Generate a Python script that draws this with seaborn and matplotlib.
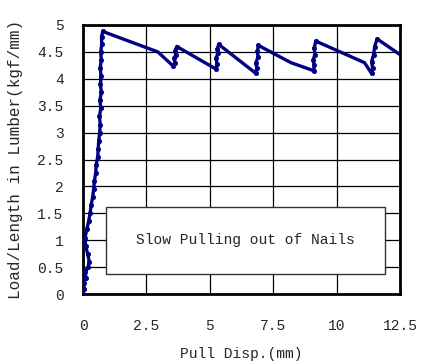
import pandas as pd
import matplotlib.pyplot as plt
import seaborn as sns

# data (displacement mm, load per length kgf/mm)
disp = [0.0, 0.05, 0.02, 0.12, 0.08, 0.2, 0.25, 0.18, 0.1, 0.08, 0.15, 0.22, 0.28,
        0.32, 0.38, 0.42, 0.45, 0.5, 0.52, 0.58, 0.6, 0.62, 0.66, 0.68, 0.65, 0.7,
        0.67, 0.72, 0.69, 0.71, 0.68, 0.72, 0.7, 0.74, 0.73, 0.78,
        2.95, 3.55, 3.62, 3.6, 3.66, 3.63, 3.7,
        5.25, 5.28, 5.25, 5.32, 5.3, 5.35,
        6.82, 6.85, 6.82, 6.9, 6.88, 6.92,
        8.2, 9.1, 9.12, 9.08, 9.14, 9.12, 9.18,
        11.1, 11.38, 11.42, 11.38, 11.46, 11.5, 11.6,
        12.5]
load = [0.0, 0.1, 0.2, 0.3, 0.4, 0.5, 0.6, 0.75, 0.9, 1.05, 1.2, 1.35, 1.5,
        1.65, 1.8, 1.95, 2.1, 2.25, 2.4, 2.55, 2.7, 2.85, 3.0, 3.15, 3.3, 3.45,
        3.6, 3.75, 3.9, 4.05, 4.2, 4.35, 4.5, 4.65, 4.78, 4.88,
        4.5, 4.24, 4.3, 4.38, 4.45, 4.52, 4.6,
        4.18, 4.28, 4.38, 4.48, 4.56, 4.64,
        4.1, 4.2, 4.3, 4.4, 4.52, 4.62,
        4.3, 4.15, 4.25, 4.35, 4.45, 4.58, 4.7,
        4.3, 4.1, 4.2, 4.32, 4.45, 4.6, 4.74,
        4.45]
# points sitting on the noisy pull-up parts (drawn with dots)
noisy = [True] * 36 + [False, True, True, True, True, True, True,
                       True, True, True, True, True, True,
                       True, True, True, True, True, True,
                       False, True, True, True, True, True, True,
                       False, True, True, True, True, True, True,
                       False]

xticks = [0, 2.5, 5, 7.5, 10, 12.5]
xlabels = ['0', '2.5', '5', '7.5', '10', '12.5']
yticks = [0, 0.5, 1, 1.5, 2, 2.5, 3, 3.5, 4, 4.5, 5]
ylabels = ['0', '0.5', '1', '1.5', '2', '2.5', '3', '3.5', '4', '4.5', '5']

df = pd.DataFrame({'disp': disp, 'load': load, 'noisy': noisy})

sns.set_style('white')
plt.rcParams['font.family'] = ['Liberation Mono', 'DejaVu Sans']

fig = plt.figure(figsize=(4.21, 3.64), dpi=100)
ax = fig.add_axes([83 / 421, 1 - 294 / 364, 317 / 421, 269 / 364])

navy = '#000080'
sns.lineplot(x='disp', y='load', data=df, sort=False, estimator=None,
             color=navy, linewidth=2.4, ax=ax, zorder=4)
sns.scatterplot(x='disp', y='load', data=df[df['noisy']], color=navy,
                s=10, edgecolor=navy, linewidth=0.5, ax=ax, zorder=5)

ax.set_xlim(0, 12.5)
ax.set_ylim(0, 5)
ax.set_xticks(xticks)
ax.set_xticklabels(xlabels, fontsize=10.5)
ax.set_yticks(yticks)
ax.set_yticklabels(ylabels, fontsize=10.5)
ax.tick_params(axis='x', length=0, pad=18)
ax.tick_params(axis='y', length=0, pad=14)
ax.grid(True, color='black', linewidth=0.9)
ax.set_axisbelow(True)
for sp in ax.spines.values():
    sp.set_visible(True)
    sp.set_color('black')
    sp.set_linewidth(2)

ax.set_xlabel('Pull Disp.(mm)', fontsize=10.5, labelpad=10)
ax.set_ylabel('Load/Length in Lumber(kgf/mm)', fontsize=11.5, labelpad=10)

ax.text(6.4, 1.0, 'Slow Pulling out of Nails', fontsize=10.5, ha='center', va='center', zorder=6)
ax.add_patch(plt.Rectangle((0.92, 0.38), 10.98, 1.24, facecolor='white',
                           edgecolor='#333333', linewidth=1, zorder=3))

fig.savefig('out.png', dpi=100)
